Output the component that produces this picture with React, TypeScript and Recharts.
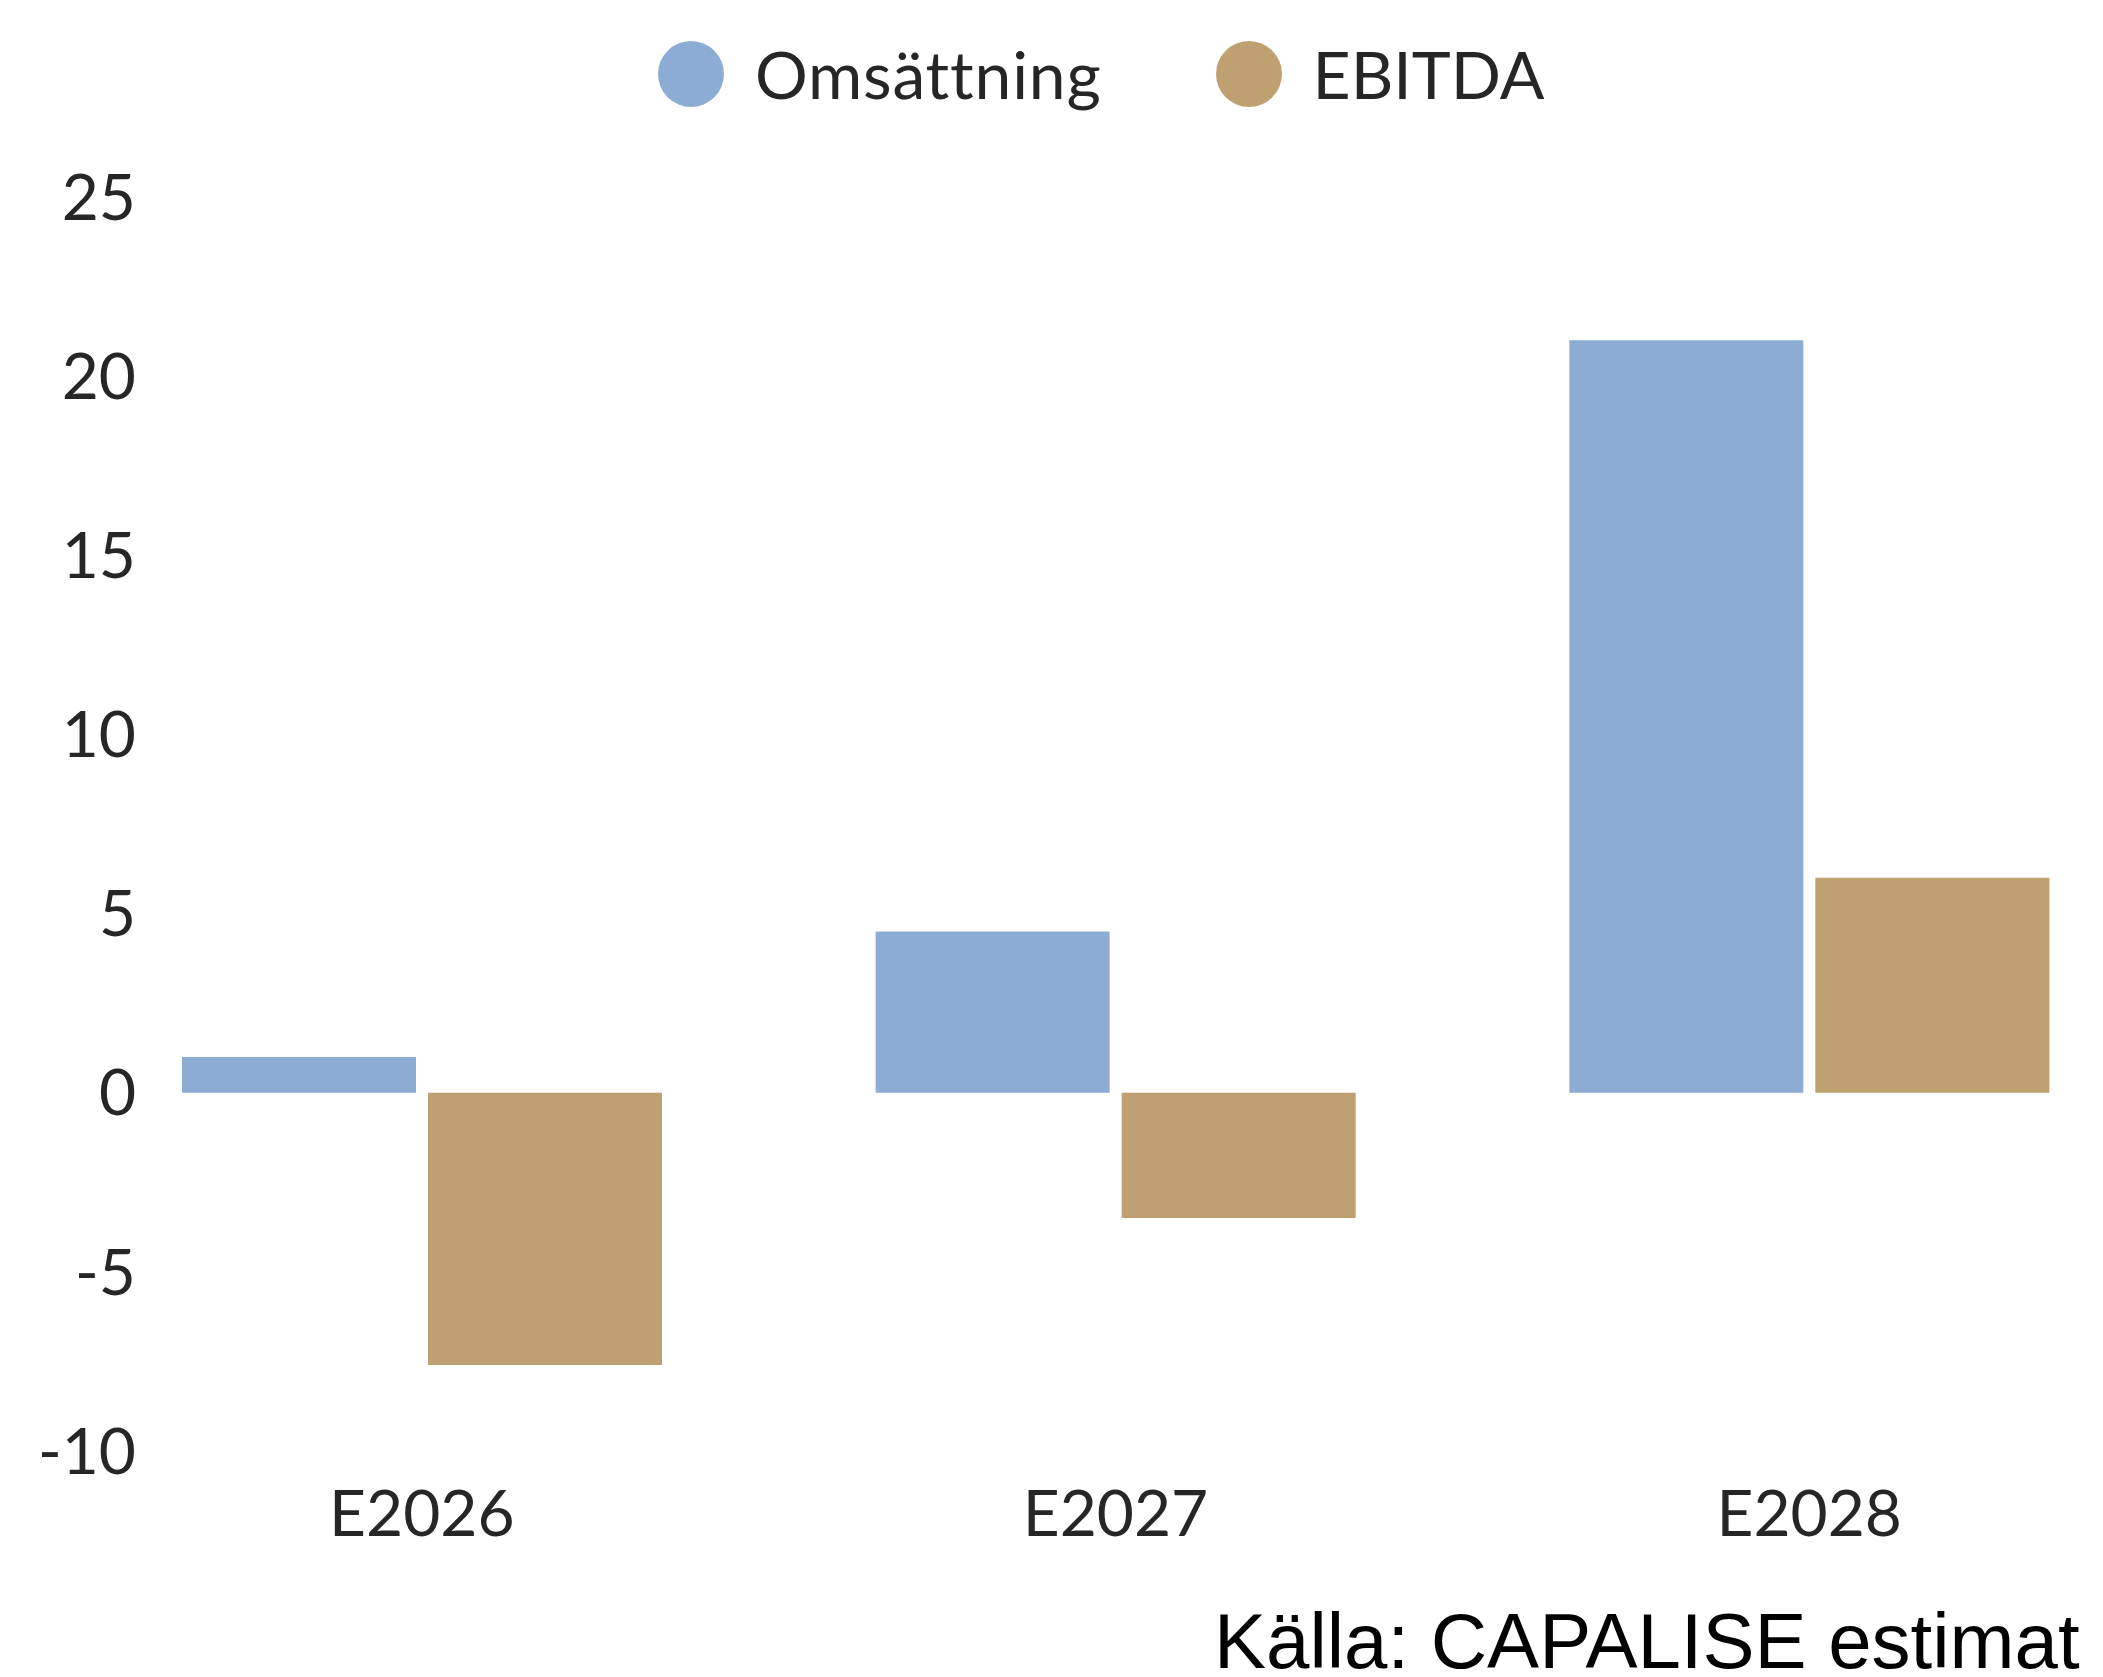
import { BarChart, Bar, XAxis, YAxis } from "recharts";

const years = ["E2026", "E2027", "E2028"];
const omsattning = [1.0, 4.5, 21.0];
const ebitda = [-7.6, -3.5, 6.0];
const yTicks = [-10, -5, 0, 5, 10, 15, 20, 25];

const series = [
  { key: "omsattning", name: "Omsättning", color: "#8dacd3" },
  { key: "ebitda", name: "EBITDA", color: "#bea071" },
];

const data = years.map((year, i) => ({
  year,
  omsattning: omsattning[i],
  ebitda: ebitda[i],
}));

const textColor = "#262626";
const font = "Lato, 'Noto Sans', sans-serif";

export default function App() {
  return (
    <div
      style={{
        position: "absolute",
        left: 0,
        top: 0,
        width: 2103,
        height: 1677,
        overflow: "hidden",
        background: "#fff",
        fontFamily: font,
      }}
    >
      {/* legend */}
      <div
        style={{
          position: "absolute",
          left: 658,
          top: 41,
          display: "flex",
          alignItems: "center",
          height: 66,
        }}
      >
        {series.map((s, i) => (
          <div
            key={s.key}
            style={{ display: "flex", alignItems: "center", marginLeft: i ? 114 : 0 }}
          >
            <span
              style={{
                width: 66,
                height: 66,
                borderRadius: "50%",
                background: s.color,
                marginRight: 31,
              }}
            />
            <span
              style={{
                fontSize: 66,
                lineHeight: 1,
                letterSpacing: i ? 0 : 0.8,
                color: textColor,
              }}
            >
              {s.name}
            </span>
          </div>
        ))}
      </div>

      <BarChart
        width={2156}
        height={1677}
        data={data}
        margin={{ top: 197, right: 0, left: 0, bottom: 126 }}
        barCategoryGap={107}
        barGap={12}
      >
        <XAxis
          dataKey="year"
          axisLine={false}
          tickLine={false}
          tickSize={0}
          tickMargin={40}
          height={100}
          tick={{ fontSize: 64, fill: textColor, fontFamily: font }}
        />
        <YAxis
          width={75}
          domain={[-10, 25]}
          ticks={yTicks}
          axisLine={false}
          tickLine={false}
          tickSize={0}
          tickMargin={0}
          tick={{ fontSize: 64, fill: textColor, fontFamily: font, dx: 61 }}
        />
        {series.map((s) => (
          <Bar
            key={s.key}
            dataKey={s.key}
            name={s.name}
            fill={s.color}
            isAnimationActive={false}
          />
        ))}
      </BarChart>

      <div
        style={{
          position: "absolute",
          left: 1214,
          top: 1608,
          fontSize: 78,
          lineHeight: "66px",
          whiteSpace: "nowrap",
          color: "#000",
          fontFamily: "'Liberation Sans', Arial, sans-serif",
        }}
      >
        Källa: CAPALISE estimat
      </div>
    </div>
  );
}
